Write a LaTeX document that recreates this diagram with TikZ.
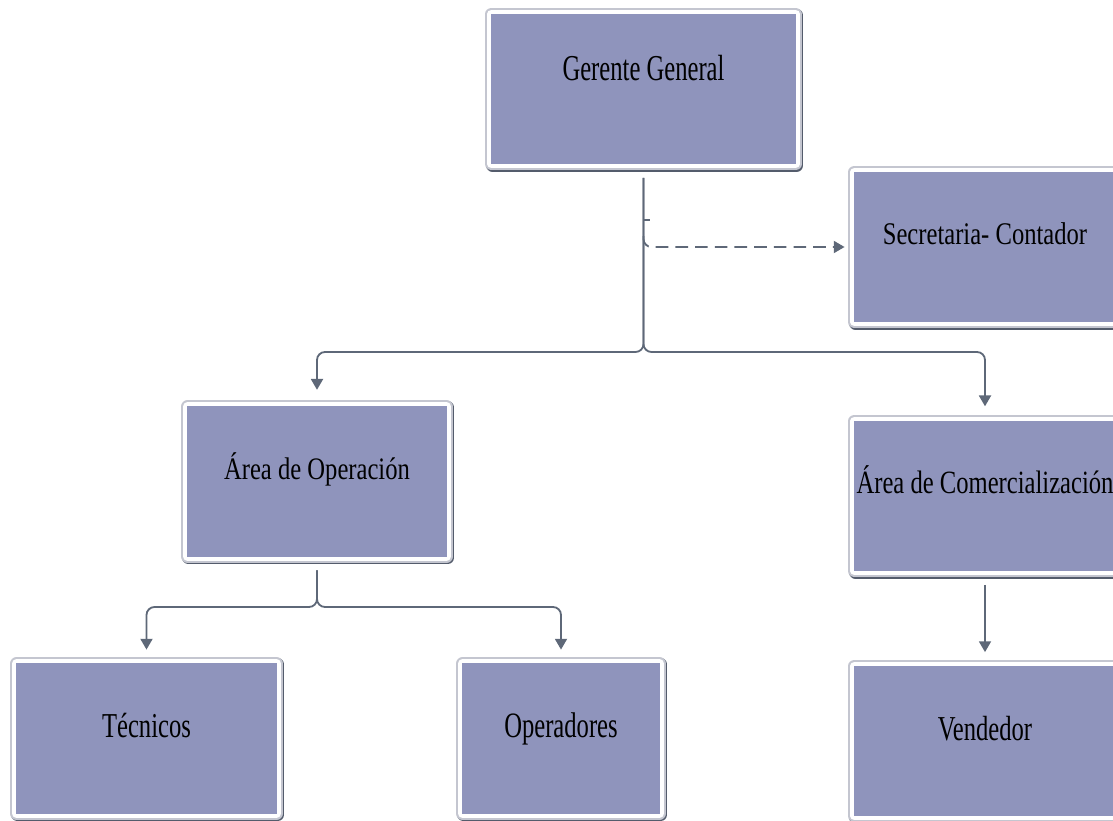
\documentclass[tikz,border=0pt]{standalone}
\usepackage{fontspec}
\setmainfont{Liberation Serif}
\usepackage{graphicx}
\usetikzlibrary{arrows.meta}

\definecolor{boxfill}{RGB}{143,148,188}
\definecolor{rimlight}{RGB}{196,198,208}
\definecolor{rimdark}{RGB}{84,92,108}
\definecolor{linkgray}{RGB}{94,104,120}

\newcommand{\boxtext}[2][1]{\scalebox{1}[#1]{#2}}

\tikzset{
  orgbox/.style={fill=boxfill, inner sep=0pt, minimum height=3.75cm,
    text height=0pt, text depth=0.15cm,
    font=\fontsize{17.5}{20}\selectfont,
    preaction={draw=rimdark, line width=0.33cm, line join=round,
      transform canvas={shift={(0.03cm,-0.03cm)}}},
    preaction={draw=rimlight, line width=0.31cm, line join=round},
    preaction={draw=white, line width=0.22cm, line join=round}},
  link/.style={draw=linkgray, line width=1.3pt, rounded corners=0.2cm,
    shorten <=0.34cm, shorten >=0.34cm,
    -{Triangle[width=0.3cm,length=0.27cm]}},
}

\begin{document}
\begin{tikzpicture}[x=0.025cm, y=-0.025cm]
    \useasboundingbox (0,0) rectangle (1113,821);

    % boxes
    \node[orgbox, minimum width=7.6cm, text depth=0.4cm] (gerente) at (643.5,89) {\boxtext[1.48]{Gerente General}};
    \node[orgbox, minimum width=6.525cm] (secretaria) at (985,247) {\boxtext[1.28]{Secretaria- Contador}};
    \node[orgbox, minimum width=6.475cm, text depth=0.12cm] (operacion) at (317,481.5) {\boxtext[1.27]{Área de Operación}};
    \node[orgbox, minimum width=6.525cm] (comercial) at (985,496) {\boxtext[1.32]{Área de Comercialización}};
    \node[orgbox, minimum width=6.5cm, text depth=0.03cm] (tecnicos) at (146.5,738.5) {\boxtext[1.42]{Técnicos}};
    \node[orgbox, minimum width=4.925cm, text depth=0.03cm] (operadores) at (561,738.5) {\boxtext[1.45]{Operadores}};
    \node[orgbox, minimum width=6.525cm, text depth=0.05cm] (vendedor) at (985,741) {\boxtext[1.42]{Vendedor}};

    % bus points
    \coordinate (bus) at (gerente.south |- 0,352);
    \coordinate (tick) at (gerente.south |- 0,220);
    \coordinate (staff) at (gerente.south |- 0,236);
    \coordinate (bus2) at (operacion.south |- 0,607);

    % gerente
    \draw[link, shorten >=0.41cm] (gerente.south) -- (bus) -| (operacion.north);
    \draw[link, shorten >=0.36cm] (gerente.south) -- (bus) -| (comercial.north);
    \draw[draw=linkgray, line width=1.3pt] (tick) -- ++(6,0);
    \draw[link, shorten <=0pt, shorten >=0.24cm, dash pattern=on 9pt off 5pt] (staff) |- (secretaria.west);

    % operacion
    \draw[link] (operacion.south) -- (bus2) -| (tecnicos.north);
    \draw[link] (operacion.south) -- (bus2) -| (operadores.north);

    % comercial
    \draw[link] (comercial.south) -- (vendedor.north);
\end{tikzpicture}
\end{document}
